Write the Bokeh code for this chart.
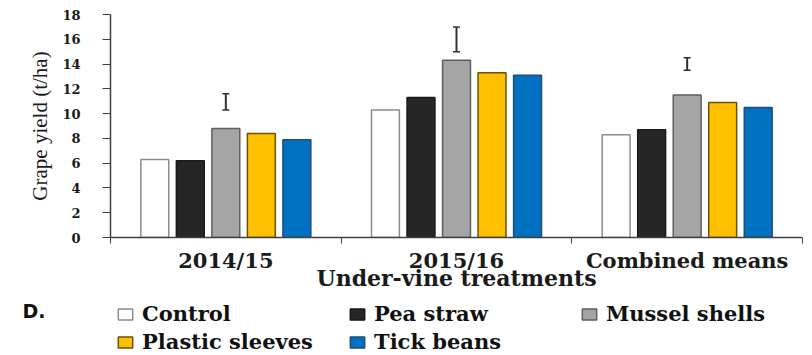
from bokeh.plotting import figure
from bokeh.layouts import column
from bokeh.models import (ColumnDataSource, Range1d, LinearAxis, FixedTicker, Legend, LegendItem,
                          Whisker, TeeHead, Label)
from bokeh.transform import dodge
from bokeh.embed import file_html
from bokeh.resources import INLINE

# Grape yield (t/ha) by season and under-vine treatment
seasons = ["2014/15", "2015/16", "Combined means"]
treatments = ["Control", "Pea straw", "Mussel shells", "Plastic sleeves", "Tick beans"]
control = [6.3, 10.3, 8.3]
pea_straw = [6.2, 11.3, 8.7]
mussel_shells = [8.8, 14.3, 11.5]
plastic_sleeves = [8.4, 13.3, 10.9]
tick_beans = [7.9, 13.1, 10.5]
# LSD bars drawn above each season group
lsd_low = [10.3, 15.0, 13.5]
lsd_high = [11.6, 17.0, 14.5]
y_ticks = [0, 2, 4, 6, 8, 10, 12, 14, 16, 18]

series = [control, pea_straw, mussel_shells, plastic_sleeves, tick_beans]
fills = ["#ffffff", "#262626", "#a5a5a5", "#ffc000", "#0070c0"]
outlines = ["#8c8c8c", "#1a1a1a", "#5f5f5f", "#6b5200", "#1f4e79"]

n = len(seasons)
pos = list(range(n))                       # group centres
edges = [i - 0.5 for i in range(n + 1)]   # group boundaries

data = {"pos": pos}
keys = []
for i, vals in enumerate(series):
    k = "s%d" % i
    keys.append(k)
    data[k] = vals
source = ColumnDataSource(data)

axis_col = "#404040"
serif_bold = "DejaVu Serif"
W = 812
H_CHART = 298
H_KEY = 57

p = figure(width=W, height=H_CHART, x_range=Range1d(-0.5, n - 0.5),
           y_range=Range1d(0, 18), x_axis_type=None, y_axis_type=None,
           output_backend="svg", toolbar_location=None,
           min_border_left=110, min_border_right=10, min_border_top=14,
           min_border_bottom=H_CHART - 237)
p.frame_align = False
p.outline_line_color = None
p.background_fill_color = "white"
p.border_fill_color = "white"
p.xgrid.visible = False

# y axis
yax = LinearAxis(ticker=FixedTicker(ticks=y_ticks), axis_label="Grape yield (t/ha)")
yax.axis_line_color = axis_col
yax.axis_line_width = 1.5
yax.major_tick_line_color = axis_col
yax.major_tick_out = 8
yax.major_tick_in = 0
yax.minor_tick_line_color = None
yax.major_label_standoff = 22
yax.major_label_text_font = serif_bold
yax.major_label_text_font_style = "bold"
yax.major_label_text_font_size = "13px"
yax.major_label_text_color = "#1a1a1a"
yax.axis_label_text_font = "Liberation Serif"
yax.axis_label_text_font_style = "normal"
yax.axis_label_text_font_size = "21px"
yax.axis_label_text_color = "#1a1a1a"
yax.axis_label_standoff = 7
p.add_layout(yax, "left")

p.ygrid.ticker = FixedTicker(ticks=y_ticks)
p.ygrid.grid_line_color = "#d9d9d9"
p.ygrid.grid_line_width = 1

# x axis: tick marks at group boundaries
edge_ax = LinearAxis(ticker=FixedTicker(ticks=edges))
edge_ax.major_label_text_font_size = "0px"
edge_ax.major_label_overrides = {e: "" for e in edges}
edge_ax.major_label_standoff = 0
edge_ax.axis_line_color = axis_col
edge_ax.axis_line_width = 1.5
edge_ax.major_tick_line_color = axis_col
edge_ax.major_tick_out = 6
edge_ax.major_tick_in = 0
edge_ax.minor_tick_line_color = None
p.add_layout(edge_ax, "below")

# x axis: season names and title
cat_ax = LinearAxis(ticker=FixedTicker(ticks=pos), axis_label="Under-vine treatments",
                    major_label_overrides={i: s for i, s in zip(pos, seasons)})
cat_ax.axis_line_color = None
cat_ax.major_tick_line_color = None
cat_ax.minor_tick_line_color = None
cat_ax.major_label_standoff = -2
cat_ax.major_label_text_font = serif_bold
cat_ax.major_label_text_font_style = "bold"
cat_ax.major_label_text_font_size = "21px"
cat_ax.major_label_text_color = "#1a1a1a"
cat_ax.axis_label_text_font = serif_bold
cat_ax.axis_label_text_font_style = "bold"
cat_ax.axis_label_text_font_size = "22px"
cat_ax.axis_label_text_color = "#1a1a1a"
cat_ax.axis_label_standoff = -11
p.add_layout(cat_ax, "below")

# bars
pitch = 0.154
bar_w = 0.121
for i, key in enumerate(keys):
    p.vbar(x=dodge("pos", (i - 2) * pitch), top=key, width=bar_w,
           source=source, fill_color=fills[i], line_color=outlines[i], line_width=1.5)

# LSD bars
lsd_src = ColumnDataSource({"pos": pos, "low": lsd_low, "high": lsd_high})
whisk = Whisker(source=lsd_src, base="pos", lower="low", upper="high", dimension="height",
                line_color="#333333", line_width=2,
                upper_head=TeeHead(size=7, line_color="#333333", line_width=1.5),
                lower_head=TeeHead(size=7, line_color="#333333", line_width=1.5))
p.add_layout(whisk)

# key panel below the chart; its renderers only supply the legend swatches
kf = figure(width=W, height=H_KEY, x_range=Range1d(0, 1), y_range=Range1d(0, 1),
            x_axis_type=None, y_axis_type=None, output_backend="svg", toolbar_location=None,
            min_border=0)
kf.frame_align = False
kf.outline_line_color = None
kf.grid.visible = False
items = []
for i, name in enumerate(treatments):
    r = kf.vbar(x=[0.5], top=[0.5], width=0.1, fill_color=fills[i], line_color=outlines[i],
                line_width=1.5, visible=False)
    items.append(LegendItem(label=name, renderers=[r]))

legend = Legend(items=items, location=(116, 1), orientation="horizontal", ncols=3,
                padding=0, margin=0, spacing=3, glyph_width=18, glyph_height=14,
                label_standoff=8, label_width=203, label_height=24,
                border_line_color=None, background_fill_alpha=0,
                inactive_fill_alpha=0, click_policy="none",
                label_text_font=serif_bold, label_text_font_style="bold",
                label_text_font_size="21px", label_text_color="#111111")
kf.add_layout(legend, "center")

kf.add_layout(Label(x=22, y=H_KEY - 12, x_units="screen", y_units="screen", text="D.",
                    text_font="DejaVu Sans", text_font_style="bold", text_font_size="19px",
                    text_baseline="alphabetic", text_color="#111111"))

layout = column(p, kf, spacing=0)
open("out.html", "w").write(file_html(layout, INLINE))
